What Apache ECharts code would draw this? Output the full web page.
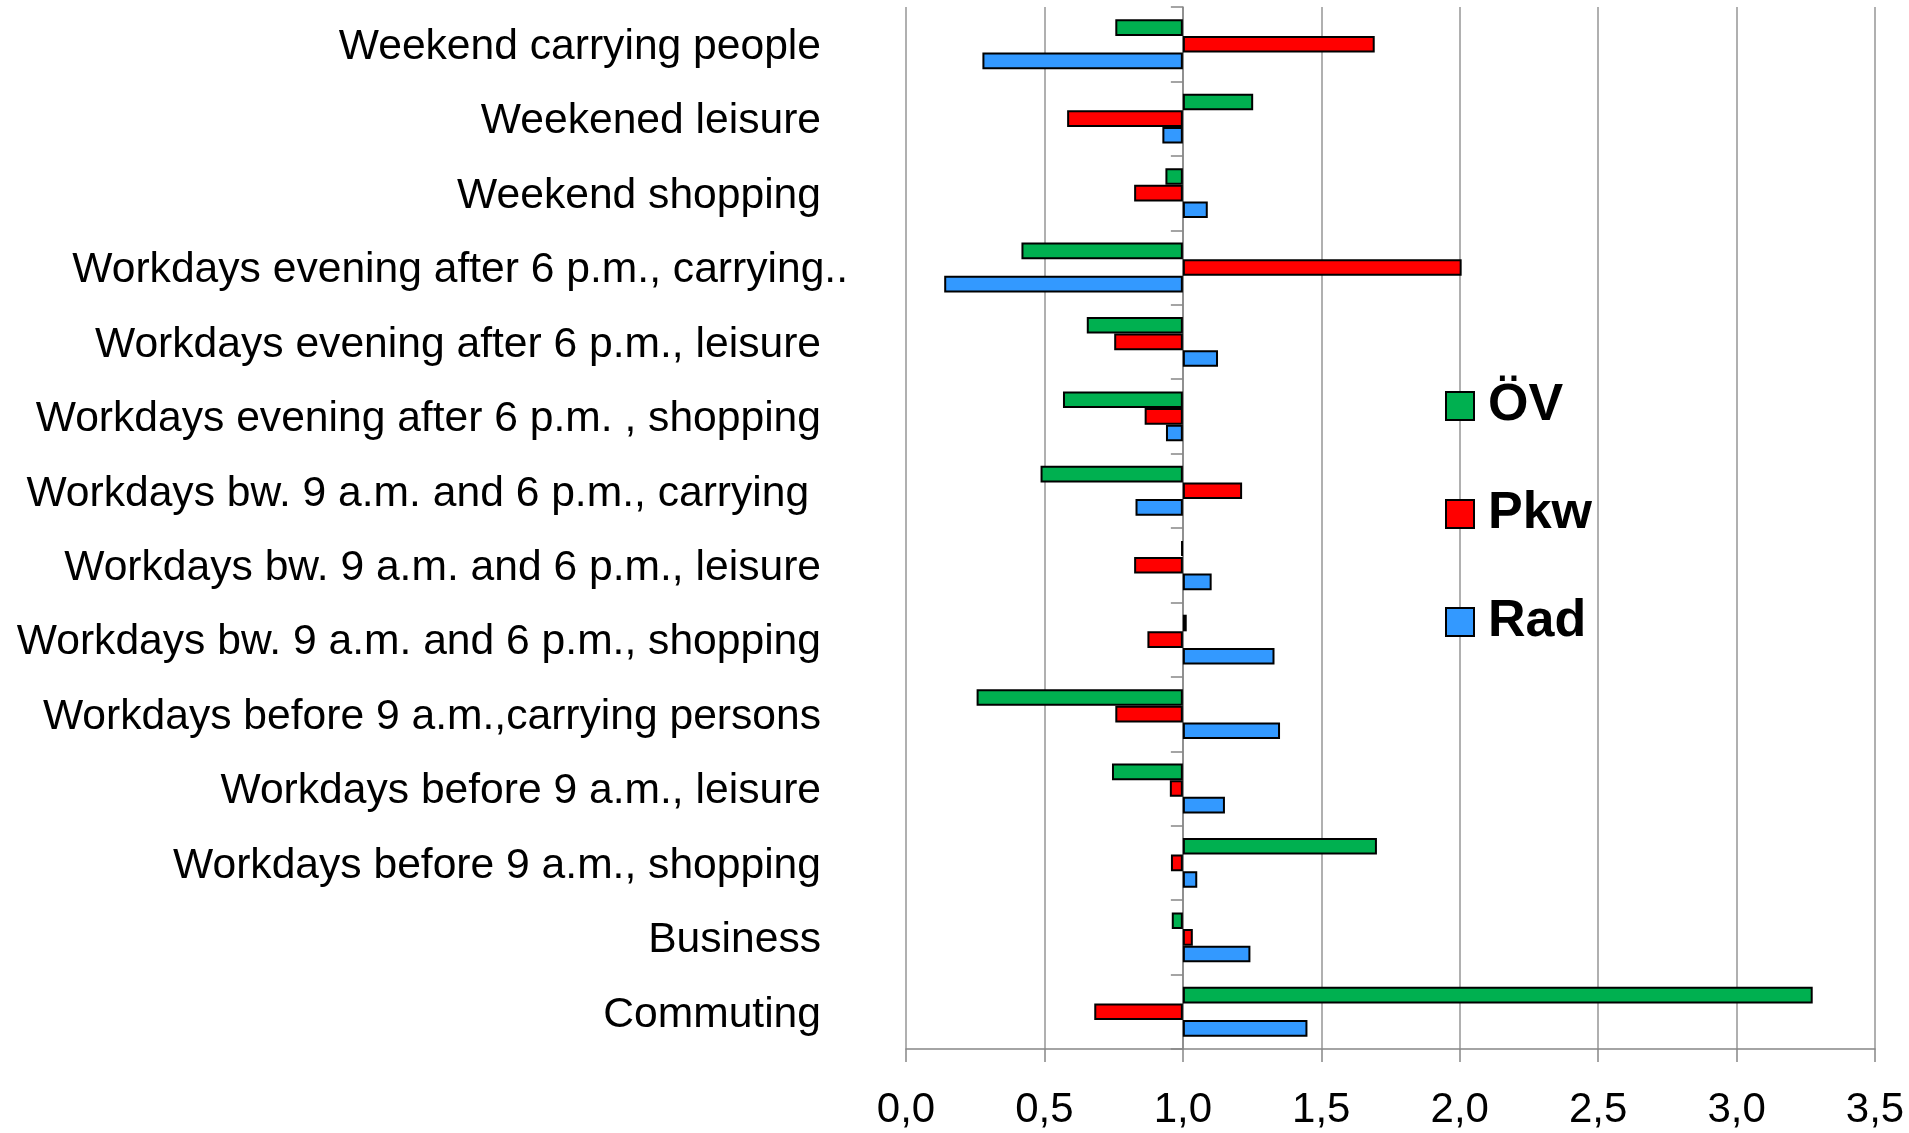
<!DOCTYPE html>
<html>
<head>
<meta charset="utf-8">
<script src="https://cdn.jsdelivr.net/npm/echarts@6/dist/echarts.min.js"></script>
<style>
  html, body { margin: 0; padding: 0; background: #fff; }
  #chart { width: 1909px; height: 1133px; }
</style>
</head>
<body>
<div id="chart"></div>
<script>
// Trip purposes, listed top to bottom
const categories = [
  'Weekend carrying people',
  'Weekened leisure',
  'Weekend shopping',
  'Workdays evening after 6 p.m., carrying..',
  'Workdays evening after 6 p.m., leisure',
  'Workdays evening after 6 p.m. , shopping',
  'Workdays bw. 9 a.m. and 6 p.m., carrying ',
  'Workdays bw. 9 a.m. and 6 p.m., leisure',
  'Workdays bw. 9 a.m. and 6 p.m., shopping',
  'Workdays before 9 a.m.,carrying persons',
  'Workdays before 9 a.m., leisure',
  'Workdays before 9 a.m., shopping',
  'Business',
  'Commuting'
];

const seriesNames = ['ÖV', 'Pkw', 'Rad'];

// Ratio per trip purpose and mode (1.0 = neutral)
const valuesOEV = [0.756, 1.254, 0.937, 0.417, 0.653, 0.567, 0.486, 0.994, 1.014, 0.255, 0.744, 1.701, 0.960, 3.275];
const valuesPkw = [1.693, 0.582, 0.824, 2.007, 0.752, 0.862, 1.214, 0.824, 0.872, 0.756, 0.953, 0.957, 1.036, 0.680];
const valuesRad = [0.276, 0.926, 1.090, 0.138, 1.127, 0.939, 0.829, 1.104, 1.331, 1.351, 1.152, 1.052, 1.244, 1.450];

// Bars grow out of this reference value
const baseline = 1.0;

const xTicks = [0, 0.5, 1, 1.5, 2, 2.5, 3, 3.5];

const colors = ['#00B050', '#FF0000', '#3399FF'];

const W = 1909, H = 1133;
const gridLeft = 906, gridRight = 34, gridTop = 7, gridBottom = 84;
const gridWidth = W - gridLeft - gridRight;
const xMin = xTicks[0], xMax = xTicks[xTicks.length - 1];

const chart = echarts.init(document.getElementById('chart'), null, { renderer: 'canvas' });

function buildPair(name, values, color, stackKey) {
  // invisible spacer from 0 up to the lower end of the bar
  const spacer = {
    name: name + '_base',
    type: 'bar',
    stack: stackKey,
    silent: true,
    data: values.map(v => Math.min(v, baseline)),
    itemStyle: { color: 'transparent', borderWidth: 0 },
    emphasis: { disabled: true },
    tooltip: { show: false }
  };
  // visible bar between the baseline and the value
  const bar = {
    name: name,
    type: 'bar',
    stack: stackKey,
    data: values.map(v => Math.abs(v - baseline)),
    itemStyle: { color: color, borderColor: '#000', borderWidth: 2 },
    emphasis: { disabled: true }
  };
  return [spacer, bar];
}

const series = [
  ...buildPair(seriesNames[0], valuesOEV, colors[0], 'oev'),
  ...buildPair(seriesNames[1], valuesPkw, colors[1], 'pkw'),
  ...buildPair(seriesNames[2], valuesRad, colors[2], 'rad')
];
series[1].barCategoryGap = '33%';
series[1].barGap = '0%';

const fontFamily = '"Liberation Sans", Arial, sans-serif';

// Labels ending in ".." run a little past the right edge of the label column
function categoryLabel(name) {
  return /\.\.$/.test(name) ? '{o|' + name + '}' : '{t|' + name + '}';
}

const labelText = { fontSize: 42.6, fontFamily: fontFamily, color: '#000' };

chart.setOption({
  animation: false,
  backgroundColor: '#fff',
  textStyle: { fontFamily: fontFamily },
  grid: { left: gridLeft, right: gridRight, top: gridTop, bottom: gridBottom, containLabel: false },
  legend: {
    data: seriesNames,
    orient: 'vertical',
    left: 1440,
    top: 374,
    itemWidth: 28,
    itemHeight: 28,
    itemGap: 54,
    icon: 'rect',
    selectedMode: false,
    textStyle: {
      fontSize: 52,
      fontWeight: 'bold',
      color: '#000',
      fontFamily: fontFamily,
      lineHeight: 54,
      padding: [0, 0, 0, 9]
    }
  },
  xAxis: {
    type: 'value',
    min: xMin,
    max: xMax,
    interval: 0.5,
    axisLine: { show: true, lineStyle: { color: '#868686', width: 1.5 } },
    axisTick: { show: true, length: 13, lineStyle: { color: '#868686', width: 1.5 } },
    splitLine: { show: true, lineStyle: { color: '#969696', width: 1.5 } },
    axisLabel: {
      fontSize: 42,
      color: '#000',
      fontFamily: fontFamily,
      margin: 40,
      formatter: v => v.toFixed(1).replace('.', ',')
    }
  },
  yAxis: [
    {
      // labels on the left side
      type: 'category',
      data: categories,
      inverse: true,
      position: 'left',
      axisLine: { show: false },
      axisTick: { show: false },
      axisLabel: {
        color: '#000',
        margin: 58,
        formatter: categoryLabel,
        rich: {
          t: Object.assign({ padding: [6, 27, 0, 0] }, labelText),
          o: Object.assign({ padding: [6, 0, 0, 0] }, labelText)
        }
      }
    },
    {
      // vertical axis line crossing at the baseline value
      type: 'category',
      data: categories,
      inverse: true,
      position: 'left',
      offset: -gridWidth * (baseline - xMin) / (xMax - xMin),
      axisLine: { show: true, onZero: false, lineStyle: { color: '#868686', width: 1.5 } },
      axisTick: { show: true, length: 12, lineStyle: { color: '#868686', width: 1.5 } },
      axisLabel: { show: false }
    }
  ],
  series: series
});
</script>
</body>
</html>
